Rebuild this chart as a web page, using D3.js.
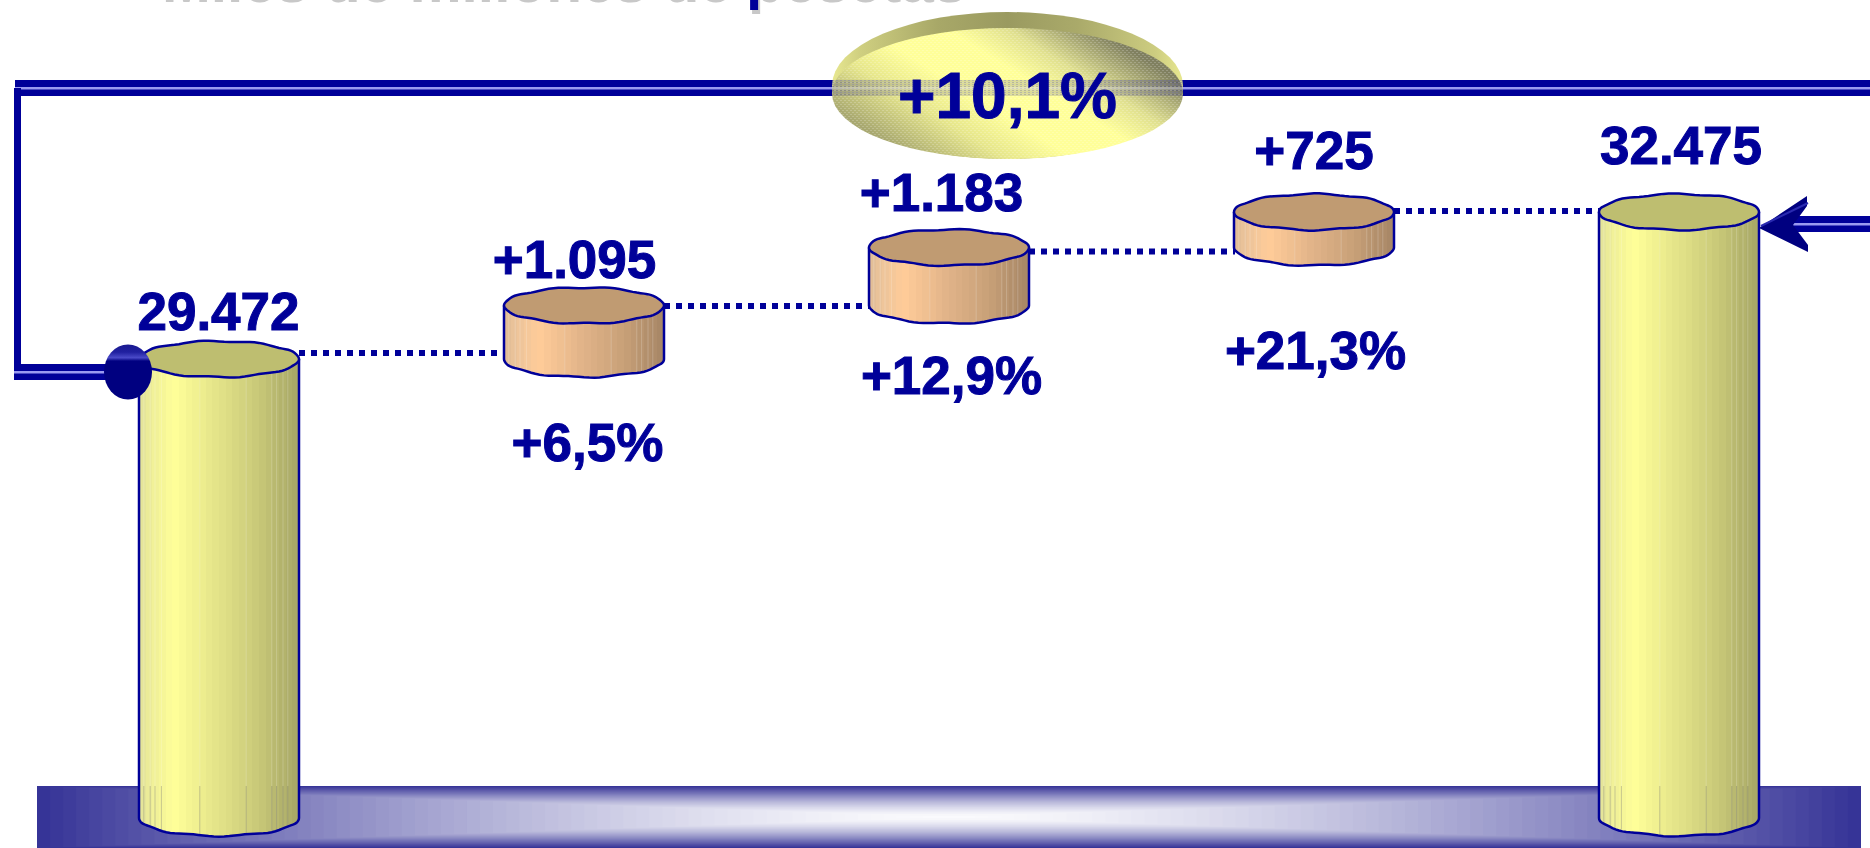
<!DOCTYPE html>
<html><head><meta charset="utf-8">
<script src="https://cdn.jsdelivr.net/npm/d3@7"></script>
<style>html,body{margin:0;padding:0;background:#fff;overflow:hidden}svg{display:block}text{font-family:"Liberation Sans",Arial,sans-serif;font-weight:700}</style>
</head><body><svg id="c" width="1870" height="848"></svg>
<script>
// ---- data ----
const categories = ["inicio", "paso1", "paso2", "paso3", "fin"];
const startValue = 29472;
const stepValues = [1095, 1183, 725];
const endValue = 32475;
const valueLabels = ["29.472", "+1.095", "+1.183", "+725", "32.475"];
const percentLabels = ["+6,5%", "+12,9%", "+21,3%"];
const totalLabel = "+10,1%";
const titleText = "Miles de millones de pesetas";
// ---- layout tweaks (pixels) ----
const valueLabelDx = [-0.5, -9.5, -7.5, 0, 2];
const valueLabelDy = [-29, -27, -37, -43, -48];
const percentDx = [3.5, 2.5, 1.5];
const percentDy = [102, 89, 121];
const connectorDy = [-6, 0.5, 4, -1];
const seams = [0.03, 0.07, 0.1, 0.14, 0.38, 0.67, 0.83, 0.86, 0.9, 0.93];

const ink = "#000099";
const svg = d3.select("#c");
const defs = svg.append("defs");
const x = d3.scalePoint().domain(categories).range([219, 1679]);
const y = d3.scaleLinear().domain([20105, 32475]).range([818, 212]);
const rx = 80, ry = 18;

// build records
let cum = startValue;
const cols = [{name: categories[0], lo: null, hi: startValue, kind: "total"}];
stepValues.forEach((v, i) => { cols.push({name: categories[i + 1], lo: cum, hi: cum + v, kind: "step"}); cum += v; });
cols.push({name: categories[4], lo: null, hi: endValue, kind: "total"});

// gradients for the cylinders: banded, like the original
function banded(id, stops, n) {
  const interp = d3.piecewise(d3.interpolateRgb, stops.map(s => s[1]));
  const pos = stops.map(s => s[0]);
  const scale = d3.scaleLinear().domain(pos).range(pos.map((_, i) => i / (pos.length - 1)));
  const g = defs.append("linearGradient").attr("id", id);
  d3.range(n).forEach(i => {
    const c = interp(scale((i + .5) / n));
    g.append("stop").attr("offset", i / n).attr("stop-color", c);
    g.append("stop").attr("offset", (i + 1) / n).attr("stop-color", c);
  });
}
banded("yel", [[0, "#e2e29a"], [.08, "#eeee98"], [.22, "#ffff99"], [.5, "#e2e288"], [.75, "#c8c878"], [.9, "#b2b26c"], [1, "#a6a666"]], 24);
banded("pea", [[0, "#e0bc96"], [.08, "#ecc49a"], [.22, "#ffcc99"], [.5, "#e0b288"], [.75, "#c8a078"], [.9, "#b2906c"], [1, "#a68666"]], 24);

// ground band: nested rectangles from edge colour to white
const base = {x0: 37, x1: 1861, y0: 786, cx: 949, cy: 817};
const baseG = svg.append("g");
const baseClip = defs.append("clipPath").attr("id", "baseClip");
baseClip.append("rect").attr("x", base.x0).attr("y", base.y0).attr("width", base.x1 - base.x0).attr("height", 62);
const W = (base.x1 - base.x0) / 2, H = base.cy - base.y0;
const baseColor = d3.interpolateRgb("#fbfbfd", "#363497");
baseG.attr("clip-path", "url(#baseClip)").selectAll("rect").data(d3.range(70, 0, -1).map(i => i / 70)).join("rect")
  .attr("x", t => base.cx - W * t).attr("width", t => 2 * W * t)
  .attr("y", t => base.cy - H * t).attr("height", t => 2 * H * t)
  .attr("fill", t => baseColor(Math.pow(t, 1.5)));

// gently wavering ellipse arc
function arcPts(cx, cy, a0, a1, phase) {
  const n = Math.round(Math.abs(a1 - a0) / (Math.PI / 48));
  return d3.range(n + 1).map(i => {
    const a = a0 + (a1 - a0) * i / n;
    return [cx + rx * Math.cos(a), cy + ry * Math.sin(a) + 0.7 * Math.sin(9 * a + phase) * Math.min(1, Math.abs(Math.sin(a)) * 2)];
  });
}
const line = d3.line();

// connectors
svg.append("g").selectAll("line").data(d3.pairs(cols)).join("line")
  .attr("x1", d => x(d[0].name) + rx).attr("x2", d => x(d[1].name) - rx + 1)
  .attr("y1", (d, i) => y(d[0].hi) + connectorDy[i]).attr("y2", (d, i) => y(d[0].hi) + connectorDy[i])
  .attr("stroke", ink).attr("stroke-width", 6).attr("stroke-dasharray", "6 6");

// cylinders
const cyl = svg.append("g").selectAll("g").data(cols).join("g");
cyl.each(function (d, i) {
  const g = d3.select(this), cx = x(d.name), top = y(d.hi);
  const bot = d.lo === null ? y.range()[0] : y(d.lo);
  const phase = i * 1.3;
  const lower = arcPts(cx, bot, 0, Math.PI, phase);
  const body = [[cx + rx, top], ...lower, [cx - rx, top]];
  g.append("path").attr("d", line(body) + "Z").attr("fill", d.kind === "total" ? "url(#yel)" : "url(#pea)");
  seams.forEach(s => {
    const sx = cx - rx + 2 * rx * s;
    const dy = Math.sqrt(Math.max(0, 1 - Math.pow((sx - cx) / rx, 2))) * ry;
    g.append("line").attr("x1", sx).attr("x2", sx).attr("y1", top + dy).attr("y2", Math.min(bot + dy, base.y0))
      .attr("stroke", "#fff").attr("stroke-opacity", .2);
    if (d.kind === "total") g.append("line").attr("x1", sx).attr("x2", sx).attr("y1", base.y0).attr("y2", bot + dy - 1)
      .attr("stroke", "#8f8f80").attr("stroke-opacity", .45);
  });
  g.append("path").attr("d", line(body)).attr("fill", "none").attr("stroke", ink).attr("stroke-width", 2.5);
  const cap = arcPts(cx, top, 0, 2 * Math.PI, phase + 2);
  g.append("path").attr("d", line(cap) + "Z").attr("fill", d.kind === "total" ? "#bebe70" : "#c09b72")
    .attr("stroke", ink).attr("stroke-width", 2.5);
});

// frame line
function dbl(x1, x2, yy) {
  const g = svg.append("g");
  g.append("rect").attr("x", x1).attr("width", x2 - x1).attr("y", yy - 8).attr("height", 16).attr("fill", ink);
  g.append("rect").attr("x", x1).attr("width", x2 - x1).attr("y", yy - 1).attr("height", 2.5).attr("fill", "#9a9af0");
}
dbl(15, 1870, 88);
svg.append("rect").attr("x", 14).attr("y", 88).attr("width", 7).attr("height", 291).attr("fill", ink);
dbl(14, 108, 372);
dbl(1788, 1870, 224);

// arrow head
svg.append("path").attr("d", line([[1759, 228], [1807, 196], [1807, 206], [1793, 225], [1808, 245], [1808, 252]]) + "Z").attr("fill", "#000080");
svg.append("line").attr("x1", 1761).attr("y1", 226).attr("x2", 1808).attr("y2", 203).attr("stroke", "#2a2ab0").attr("stroke-width", 2);

// ball
const ballGrad = defs.append("linearGradient").attr("id", "ball").attr("x1", 0).attr("x2", 0).attr("y1", 0).attr("y2", 1);
[[0, "#1a1a90"], [.14, "#2020a0"], [.24, "#4a4ac8"], [.3, "#000080"], [1, "#000080"]].forEach(s => ballGrad.append("stop").attr("offset", s[0]).attr("stop-color", s[1]));
svg.append("ellipse").attr("cx", 128).attr("cy", 372).attr("rx", 24).attr("ry", 27.5).attr("fill", "url(#ball)");

// ellipse disc
const disc = {cx: 1007.5, rx: 175.5};
const rim = defs.append("linearGradient").attr("id", "rim");
[[0, "#e8e890"], [.08, "#cfcf80"], [.3, "#a8a868"], [.5, "#9a9a60"], [.7, "#aaaa6a"], [.92, "#cccc80"], [1, "#e8e890"]].forEach(s => rim.append("stop").attr("offset", s[0]).attr("stop-color", s[1]));
const face = defs.append("linearGradient").attr("id", "face").attr("gradientUnits", "userSpaceOnUse")
  .attr("x1", 946).attr("y1", 191).attr("x2", 1069).attr("y2", -7);
[[.045, "#a8a870"], [.25, "#e6e68c"], [.41, "#ffff99"], [.59, "#ffff99"], [.73, "#e0e090"], [.93, "#808060"]].forEach(s => face.append("stop").attr("offset", s[0]).attr("stop-color", s[1]));
const dith = defs.append("pattern").attr("id", "dith").attr("width", 4).attr("height", 4).attr("patternUnits", "userSpaceOnUse");
dith.append("rect").attr("width", 2).attr("height", 1).attr("fill", "#fff").attr("fill-opacity", .2);
dith.append("rect").attr("x", 2).attr("y", 2).attr("width", 2).attr("height", 1).attr("fill", "#fff").attr("fill-opacity", .2);
const dark = defs.append("pattern").attr("id", "dark").attr("width", 4).attr("height", 2).attr("patternUnits", "userSpaceOnUse");
dark.append("rect").attr("width", 4).attr("height", 2).attr("fill", ink).attr("fill-opacity", .14);
dark.append("rect").attr("width", 2).attr("height", 1).attr("fill", ink).attr("fill-opacity", .16);
defs.append("clipPath").attr("id", "discClip").append("ellipse").attr("cx", disc.cx).attr("cy", 85.5).attr("rx", disc.rx).attr("ry", 73.5);

svg.append("ellipse").attr("cx", disc.cx).attr("cy", 85.5).attr("rx", disc.rx).attr("ry", 73.5).attr("fill", "url(#rim)");
svg.append("ellipse").attr("cx", disc.cx).attr("cy", 93.5).attr("rx", disc.rx).attr("ry", 65.5).attr("fill", "url(#face)");
svg.append("ellipse").attr("cx", disc.cx).attr("cy", 93.5).attr("rx", disc.rx).attr("ry", 65.5).attr("fill", "url(#dith)");
const through = svg.append("g").attr("clip-path", "url(#discClip)");
through.append("rect").attr("x", disc.cx - disc.rx).attr("width", 2 * disc.rx).attr("y", 80).attr("height", 16).attr("fill", "url(#dark)");
through.append("rect").attr("x", disc.cx - disc.rx).attr("width", 2 * disc.rx).attr("y", 87).attr("height", 2.5).attr("fill", "#fff").attr("fill-opacity", .3);

// labels
svg.append("text").attr("x", 162).attr("y", 1.5).attr("font-size", 58.6).attr("fill", "#c8c8c8").text(titleText);
svg.append("text").attr("x", 160).attr("y", -2).attr("font-size", 58.6).attr("fill", ink).text(titleText);

const heavy = sel => sel.attr("stroke", ink).attr("stroke-width", 1).attr("paint-order", "stroke");
heavy(svg.append("g").selectAll("text").data(cols).join("text")
  .attr("x", (d, i) => x(d.name) + valueLabelDx[i])
  .attr("y", (d, i) => y(d.hi) + valueLabelDy[i])
  .attr("text-anchor", "middle").attr("font-size", 53).attr("fill", ink)
  .text((d, i) => valueLabels[i]));
heavy(svg.append("g").selectAll("text").data(cols.filter(d => d.kind === "step")).join("text")
  .attr("x", (d, i) => x(d.name) + percentDx[i])
  .attr("y", (d, i) => y(d.lo) + percentDy[i])
  .attr("text-anchor", "middle").attr("font-size", 53).attr("fill", ink)
  .text((d, i) => percentLabels[i]));
heavy(svg.append("text").attr("x", disc.cx).attr("y", 118).attr("text-anchor", "middle").attr("font-size", 64).attr("fill", ink).text(totalLabel));
</script></body></html>
